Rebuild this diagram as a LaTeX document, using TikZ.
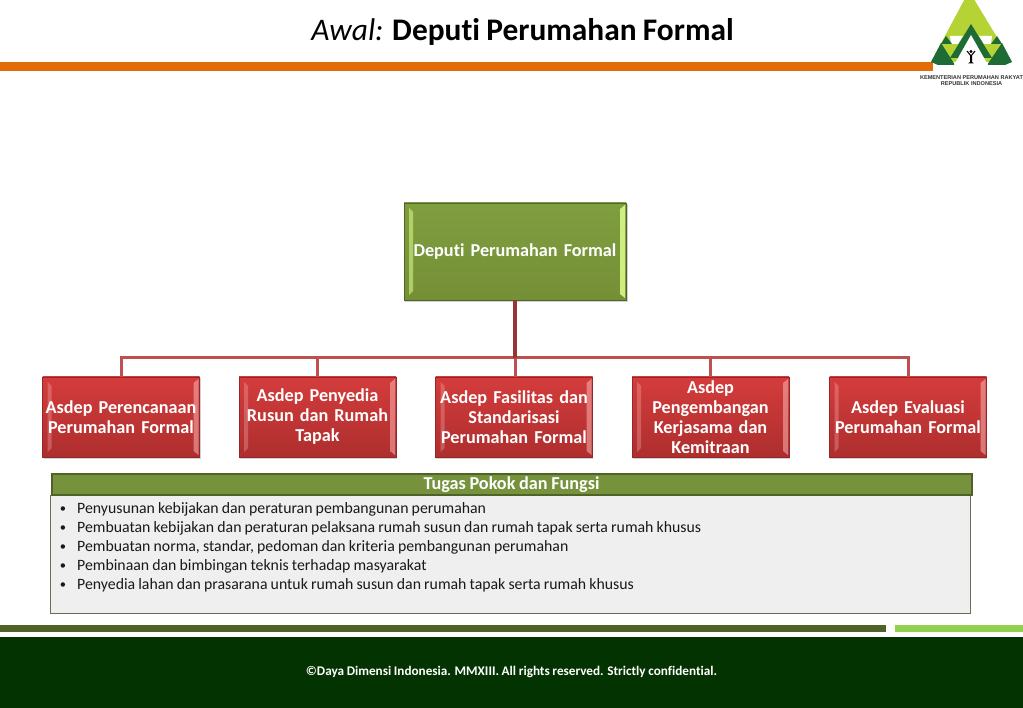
\documentclass[tikz,border=0pt]{standalone}
\usepackage{fontspec}
\setmainfont[Ligatures={NoCommon,TeX},WordSpace=0.88]{Carlito}
\newfontfamily\logofont{Liberation Sans}
\usetikzlibrary{calc}
\definecolor{orangebar}{HTML}{E36C09}
\definecolor{oliveA}{HTML}{7F9E3F}
\definecolor{oliveB}{HTML}{758F37}
\definecolor{oliveD}{HTML}{4F6228}
\definecolor{oliveH}{HTML}{76923C}
\definecolor{redA}{HTML}{D43C3C}
\definecolor{redB}{HTML}{AE2E2E}
\definecolor{redD}{HTML}{953735}
\definecolor{redL}{HTML}{C0504D}
\definecolor{panelF}{HTML}{EFEFEF}
\definecolor{panelD}{HTML}{6B6B58}
\definecolor{limeB}{HTML}{92D050}
\definecolor{footG}{HTML}{033300}
\definecolor{logoD}{HTML}{1E6B35}
\definecolor{logoL}{HTML}{B5D334}
\newcommand{\bevelpair}[3]{%
  \fill[#1,opacity=#2] ($(path picture bounding box.north west)+(5,5)$) -- ($(path picture bounding box.north west)+(9,9)$) -- ($(path picture bounding box.south west)+(9,-9)$) -- ($(path picture bounding box.south west)+(5,-5)$) -- cycle;
  \fill[#1,opacity=#3] ($(path picture bounding box.north east)+(-1,2)$) -- ($(path picture bounding box.north east)+(-6,6)$) -- ($(path picture bounding box.south east)+(-6,-6)$) -- ($(path picture bounding box.south east)+(-1,-2)$) -- cycle;
}
\newcommand{\bul}{\makebox[18pt][l]{\raisebox{.8pt}{\fontsize{12.5}{12.5}\selectfont\hspace{.6pt}•}}}
\tikzset{
  x=1pt,y=-1pt,
  lbl/.style={text=white,font=\fontsize{18.2}{20}\selectfont\bfseries,align=center,inner sep=0pt,outer sep=0pt},
  redbox/.style={lbl,minimum width=157pt,minimum height=80pt,text width=157pt,top color=redA,bottom color=redB,draw=redB!85!black,line width=.6pt,
    path picture={\bevelpair{red!25!white}{.3}{.5}}},
  greenbox/.style={lbl,minimum width=222pt,minimum height=97pt,text width=215pt,top color=oliveA,bottom color=oliveB,draw=oliveD,line width=.8pt,
    path picture={\bevelpair{green!30!yellow!45!white}{.55}{.85}}},
  shadowbox/.style={fill=black,opacity=.18,draw=none},
  bus/.style={draw=redL,line width=3pt},
  trunk/.style={draw=redD,line width=4pt},
}
\begin{document}
\begin{tikzpicture}
\useasboundingbox (0,0) rectangle (1023,708);
\fill[white] (0,0) rectangle (1023,708);
% top band
\fill[orangebar] (0,62) rectangle (933,71);
% logo
\fill[logoL] (969,-9) -- (1012,62) -- (931,62) -- cycle;
\fill[white] (950,36) -- (963,36) -- (958,44) -- (951,44) -- cycle;
\fill[white] (979,36) -- (992,36) -- (991,44) -- (984,44) -- cycle;
\fill[logoD] (946,36) -- (952,44) -- (941,44) -- cycle;
\fill[logoD] (997,36) -- (1002,44) -- (991,44) -- cycle;
\fill[logoD] (971,24) -- (992,58) -- (950,58) -- cycle;
\fill[logoD] (941,43) -- (955,65) -- (938,65) -- (931,62) -- cycle;
\fill[logoD] (1002,43) -- (987,65) -- (1005,65) -- (1012,62) -- cycle;
\fill[white] (971,35) -- (988,65) -- (954,65) -- cycle;
\fill[black] (970,56) -- (972,56) -- (972,62) -- (974,63.5) -- (968,63.5) -- (970,62) -- cycle;
\draw[black,line width=1.1pt] (967,51) -- (971,56) -- (975,51);
\fill[black] (971,51.5) circle (1.6);
\node[inner sep=0pt,align=center,font=\logofont\bfseries\fontsize{5.6}{6.6}\selectfont,text=black!80] (logotext) at (971.5,80.5) {KEMENTERIAN PERUMAHAN RAKYAT\\REPUBLIK INDONESIA};
% title
\node[inner sep=0pt,font=\fontsize{31.4}{34}\selectfont,anchor=base] (title) at (522.5,41) {\textit{Awal:} \textbf{Deputi Perumahan Formal}};
% shadows
\fill[shadowbox] (405,204) rectangle (628,302);
\foreach \xa in {44,240,436,633,830}
  \fill[shadowbox] (\xa,378) rectangle ({\xa+157},459);
% boxes and connectors
\node[greenbox] (dep) at (515,251.5) {\raisebox{-1pt}{Deputi Perumahan Formal}};
\node[redbox] (a1) at (121,417) {Asdep Perencanaan\\Perumahan Formal};
\node[redbox] (a2) at (317.5,417) {Asdep Penyedia\\Rusun dan Rumah\\Tapak};
\node[redbox] (a3) at (514,417) {Asdep Fasilitas dan\\Standarisasi\\Perumahan Formal};
\node[redbox] (a4) at (710.5,417) {Asdep\\Pengembangan\\Kerjasama dan\\Kemitraan};
\node[redbox] (a5) at (908,417) {Asdep Evaluasi\\Perumahan Formal};
\coordinate (busC) at (515,358);
\draw[bus] (busC) -| (a1.north);
\draw[bus] (busC) -| (a2.north);
\draw[bus] (busC) -- (a3.north -| busC);
\draw[bus] (busC) -| (a4.north);
\draw[bus] (busC) -| (a5.north);
\draw[trunk] (dep.south) -- (busC);
% panel
\node[draw=panelD,fill=panelF,line width=1pt,minimum width=920pt,minimum height=118pt,inner sep=0pt,outer sep=0pt] (panel) at (510,554) {};
\node[draw=oliveD,fill=oliveH,line width=2pt,minimum width=920pt,minimum height=21pt,inner sep=0pt,outer sep=0pt,text=white,font=\fontsize{18.2}{20}\selectfont\bfseries] (head) at (511.5,484.5) {Tugas Pokok dan Fungsi};
\node[anchor=north west,inner sep=0pt,align=left,text=black!90,font=\fontsize{15.8}{19}\selectfont] (list) at (59,502) {%
\bul Penyusunan kebijakan dan peraturan pembangunan perumahan\\
\bul Pembuatan kebijakan dan peraturan pelaksana rumah susun dan rumah tapak serta rumah khusus\\
\bul Pembuatan norma, standar, pedoman dan kriteria pembangunan perumahan\\
\bul Pembinaan dan bimbingan teknis terhadap masyarakat\\
\bul Penyedia lahan dan prasarana untuk rumah susun dan rumah tapak serta rumah khusus};
% bottom bars
\fill[oliveD] (0,625) rectangle (886,632);
\fill[limeB] (895,625) rectangle (1023,632);
\fill[footG] (0,637) rectangle (1023,708);
\node[text=white,inner sep=0pt,font=\fontsize{13.2}{15}\selectfont\bfseries] (foot) at (511.5,672) {©Daya Dimensi Indonesia. MMXIII. All rights reserved. Strictly confidential.};
\end{tikzpicture}
\end{document}
